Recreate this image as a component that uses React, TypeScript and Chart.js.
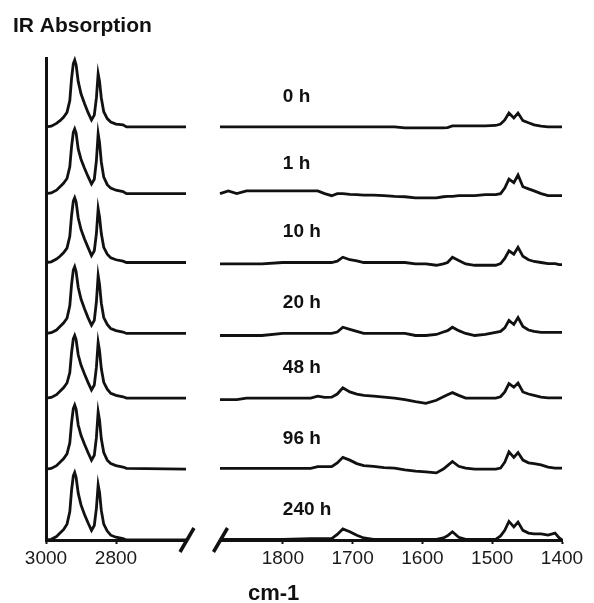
import React, { useEffect, useRef } from 'react';
import { Chart, registerables } from 'chart.js';

Chart.register(...registerables);

// ---------- data ----------
const timeLabels = ['0 h', '1 h', '10 h', '20 h', '48 h', '96 h', '240 h'];
const baselineOffsets = [6, 5.03, 4.03, 3.0, 2.06, 1.03, 0];

const leftTickValues = [3000, 2800];
const rightTickValues = [1800, 1700, 1600, 1500, 1400];

// C-H stretching region (cm-1)
const leftWavenumbers = [3000, 2985, 2970, 2960, 2950, 2940, 2932, 2927, 2922, 2918, 2914, 2908, 2900, 2890, 2880, 2870, 2862, 2856, 2851, 2847, 2842, 2835, 2825, 2815, 2800, 2780, 2770, 2600];

const left0h = [0, 0.01, 0.05, 0.09, 0.14, 0.21, 0.38, 0.7, 0.92, 0.97, 0.9, 0.66, 0.48, 0.34, 0.21, 0.1, 0.17, 0.42, 0.77, 0.66, 0.42, 0.22, 0.12, 0.07, 0.04, 0.03, 0, 0];
const left1h = [0, 0.01, 0.05, 0.1, 0.15, 0.22, 0.39, 0.68, 0.89, 0.94, 0.88, 0.65, 0.5, 0.37, 0.25, 0.14, 0.21, 0.48, 0.87, 0.74, 0.46, 0.24, 0.13, 0.08, 0.05, 0.03, 0, 0];
const left10h = [0, 0.01, 0.05, 0.09, 0.14, 0.21, 0.38, 0.68, 0.89, 0.94, 0.88, 0.65, 0.48, 0.34, 0.22, 0.1, 0.17, 0.42, 0.78, 0.66, 0.42, 0.22, 0.12, 0.07, 0.04, 0.02, 0, 0];
const left20h = [0, 0.01, 0.05, 0.1, 0.15, 0.22, 0.4, 0.71, 0.92, 0.97, 0.9, 0.67, 0.5, 0.36, 0.23, 0.12, 0.19, 0.46, 0.84, 0.71, 0.44, 0.23, 0.13, 0.07, 0.04, 0.02, 0, 0];
const left48h = [0, 0.01, 0.05, 0.1, 0.15, 0.22, 0.37, 0.66, 0.86, 0.91, 0.85, 0.63, 0.48, 0.35, 0.23, 0.12, 0.19, 0.45, 0.81, 0.69, 0.43, 0.23, 0.13, 0.07, 0.04, 0.02, 0, 0];
const left96h = [0, 0.01, 0.05, 0.1, 0.15, 0.22, 0.38, 0.67, 0.88, 0.93, 0.87, 0.64, 0.49, 0.36, 0.24, 0.13, 0.2, 0.46, 0.83, 0.71, 0.44, 0.24, 0.13, 0.08, 0.05, 0.03, 0.01, 0];
const left240h = [0, 0.01, 0.05, 0.1, 0.15, 0.23, 0.41, 0.72, 0.93, 0.98, 0.91, 0.68, 0.51, 0.37, 0.25, 0.14, 0.21, 0.46, 0.8, 0.69, 0.43, 0.23, 0.13, 0.07, 0.04, 0.02, 0, 0];

// fingerprint region (cm-1)
const rightWavenumbers = [1890, 1878, 1866, 1852, 1830, 1800, 1760, 1750, 1740, 1730, 1722, 1714, 1704, 1694, 1684, 1670, 1655, 1640, 1625, 1610, 1595, 1580, 1570, 1564, 1557, 1548, 1538, 1525, 1510, 1495, 1488, 1482, 1476, 1469, 1463, 1456, 1448, 1440, 1430, 1420, 1410, 1404, 1400];

const right0h = [0, 0, 0, 0, 0, 0, 0, 0, 0, 0, 0, 0, 0, 0, 0, 0, 0, 0, -0.015, -0.015, -0.015, -0.015, -0.015, -0.01, 0.015, 0.015, 0.015, 0.015, 0.015, 0.02, 0.04, 0.1, 0.2, 0.13, 0.2, 0.09, 0.06, 0.03, 0.01, 0, 0, 0, 0];
const right1h = [0, 0.04, 0, 0.04, 0.04, 0.04, 0.04, 0.04, 0, -0.03, 0, 0, -0.01, -0.015, -0.02, -0.02, -0.03, -0.04, -0.045, -0.06, -0.06, -0.06, -0.045, -0.04, -0.04, -0.03, -0.03, -0.03, -0.015, -0.015, 0, 0.08, 0.21, 0.16, 0.27, 0.1, 0.07, 0.04, 0, -0.03, -0.03, -0.03, -0.03];
const right10h = [-0.02, -0.02, -0.02, -0.02, -0.02, 0, 0, 0, 0, 0, 0.02, 0.077, 0.04, 0.025, 0, 0, 0, 0, 0, -0.02, -0.02, -0.04, -0.02, 0, 0.077, 0.03, -0.02, -0.04, -0.04, -0.04, -0.015, 0.06, 0.17, 0.12, 0.22, 0.09, 0.04, 0.015, 0, -0.015, -0.015, -0.03, -0.03];
const right20h = [-0.03, -0.03, -0.03, -0.03, -0.03, 0, 0, 0, 0, 0, 0.02, 0.09, 0.06, 0.03, 0, 0, 0, 0, 0, -0.03, -0.03, -0.015, 0.02, 0.04, 0.09, 0.04, 0, -0.03, -0.015, 0.015, 0.03, 0.08, 0.19, 0.13, 0.23, 0.1, 0.05, 0.03, 0.015, 0.015, 0.015, 0.015, 0.015];
const right48h = [-0.02, -0.02, -0.02, 0, 0, 0, 0, 0.03, 0.01, 0.015, 0.06, 0.15, 0.09, 0.06, 0.04, 0.03, 0.015, 0, -0.02, -0.05, -0.075, -0.03, 0.02, 0.05, 0.08, 0.04, 0, 0, 0, 0, 0.02, 0.09, 0.21, 0.16, 0.22, 0.09, 0.06, 0.04, 0.015, 0.005, 0.005, 0.005, 0.005];
const right96h = [0.01, 0.01, 0.01, 0.01, 0.01, 0.01, 0.01, 0.035, 0.035, 0.035, 0.09, 0.17, 0.13, 0.08, 0.05, 0.04, 0.02, 0.015, -0.01, -0.03, -0.04, -0.055, 0, 0.05, 0.11, 0.04, 0.015, 0, 0, 0, 0.015, 0.1, 0.25, 0.17, 0.24, 0.13, 0.09, 0.08, 0.06, 0.03, 0.015, 0.015, 0.015];
const right240h = [0.01, 0.01, 0.01, 0.01, 0.01, 0.01, 0.02, 0.02, 0.02, 0.02, 0.08, 0.16, 0.12, 0.07, 0.03, 0.01, 0.01, 0.01, 0.01, 0.01, 0.01, 0.01, 0.03, 0.06, 0.12, 0.04, 0.01, 0.01, 0.01, 0.01, 0.06, 0.14, 0.27, 0.19, 0.26, 0.14, 0.1, 0.09, 0.09, 0.07, 0.1, 0.03, 0];

const leftSeries = [left0h, left1h, left10h, left20h, left48h, left96h, left240h];
const rightSeries = [right0h, right1h, right10h, right20h, right48h, right96h, right240h];

// ---------- styling ----------
const FONT = '"Liberation Sans", Arial, Helvetica, sans-serif';
const INK = '#111111';
const W = 594;
const H = 603;

function buildDatasets(xs: number[], series: number[][]) {
  return series.map((vals, i) => ({
    label: timeLabels[i],
    data: xs.map((x, j) => ({ x, y: baselineOffsets[i] + vals[j] })),
    borderColor: INK,
    borderWidth: 2.8,
    pointRadius: 0,
    tension: 0,
    fill: false,
    clip: false as const,
  }));
}

function xScale(min: number, max: number, ticks: number[]) {
  return {
    type: 'linear' as const,
    min,
    max,
    reverse: true,
    afterBuildTicks: (s: any) => {
      s.ticks = ticks.map((v) => ({ value: v }));
    },
    afterFit: (s: any) => {
      s.height = 63;
    },
    grid: {
      display: true,
      drawOnChartArea: false,
      drawTicks: true,
      tickLength: 4,
      tickWidth: 2,
      tickColor: INK,
    },
    border: { display: true, width: 3, color: INK },
    ticks: {
      autoSkip: false,
      maxRotation: 0,
      padding: 3,
      color: '#1a1a1a',
      font: { family: FONT, size: 19 },
      callback: (v: any) => String(v),
    },
  };
}

const slashPlugin = (side: 'left' | 'right') => ({
  id: 'slash-' + side,
  afterDraw(chart: any) {
    const { ctx, chartArea } = chart;
    const cx = side === 'left' ? chartArea.right + 1 : chartArea.left + 0.5;
    const cy = chartArea.bottom;
    ctx.save();
    ctx.strokeStyle = INK;
    ctx.lineWidth = 3.5;
    ctx.beginPath();
    ctx.moveTo(cx - 7, cy + 12);
    ctx.lineTo(cx + 7, cy - 12);
    ctx.stroke();
    ctx.restore();
  },
});

const textPlugin = {
  id: 'texts',
  afterDraw(chart: any) {
    const { ctx, scales } = chart;
    ctx.save();
    ctx.fillStyle = INK;
    ctx.textAlign = 'left';
    ctx.textBaseline = 'middle';
    ctx.font = `bold 19px ${FONT}`;
    timeLabels.forEach((t, i) => {
      const x = scales.x.getPixelForValue(1800);
      const y = scales.y.getPixelForValue(baselineOffsets[i] + 0.44);
      ctx.fillText(t, x, y);
    });
    ctx.textBaseline = 'alphabetic';
    ctx.font = `bold 21px ${FONT}`;
    ctx.fillText('IR Absorption', 13, 32);
    ctx.font = `bold 22px ${FONT}`;
    ctx.fillText('cm-1', 248, 600);
    ctx.restore();
  },
};

export default function App() {
  const leftRef = useRef<HTMLCanvasElement | null>(null);
  const rightRef = useRef<HTMLCanvasElement | null>(null);

  useEffect(() => {
    if (!leftRef.current || !rightRef.current) return;
    Chart.defaults.font.family = FONT;

    const left = new Chart(leftRef.current, {
      type: 'line',
      data: { datasets: buildDatasets(leftWavenumbers, leftSeries) as any },
      options: {
        responsive: false,
        animation: false,
        devicePixelRatio: 1,
        layout: { padding: { left: 46, right: W - 186, top: 58, bottom: 0 } },
        plugins: { legend: { display: false }, tooltip: { enabled: false }, title: { display: false } },
        scales: {
          x: xScale(2600, 3000, leftTickValues) as any,
          y: {
            type: 'linear',
            min: 0,
            max: 7,
            afterFit: (s: any) => {
              s.width = 0;
            },
            grid: { display: false, drawTicks: false },
            border: { display: true, width: 3, color: INK },
            ticks: { display: false },
          },
        },
      },
      plugins: [slashPlugin('left')],
    });

    const right = new Chart(rightRef.current, {
      type: 'line',
      data: { datasets: buildDatasets(rightWavenumbers, rightSeries) as any },
      options: {
        responsive: false,
        animation: false,
        devicePixelRatio: 1,
        layout: { padding: { left: 220, right: W - 562, top: 58, bottom: 0 } },
        plugins: { legend: { display: false }, tooltip: { enabled: false }, title: { display: false } },
        scales: {
          x: xScale(1400, 1890, rightTickValues) as any,
          y: { type: 'linear', min: 0, max: 7, display: false },
        },
      },
      plugins: [slashPlugin('right'), textPlugin],
    });

    return () => {
      left.destroy();
      right.destroy();
    };
  }, []);

  const canvasStyle: React.CSSProperties = { position: 'absolute', left: 0, top: 0, width: W, height: H };
  return (
    <div style={{ position: 'absolute', left: 0, top: 0, width: W, height: H, background: '#fff' }}>
      <canvas ref={leftRef} width={W} height={H} style={canvasStyle} />
      <canvas ref={rightRef} width={W} height={H} style={canvasStyle} />
    </div>
  );
}
